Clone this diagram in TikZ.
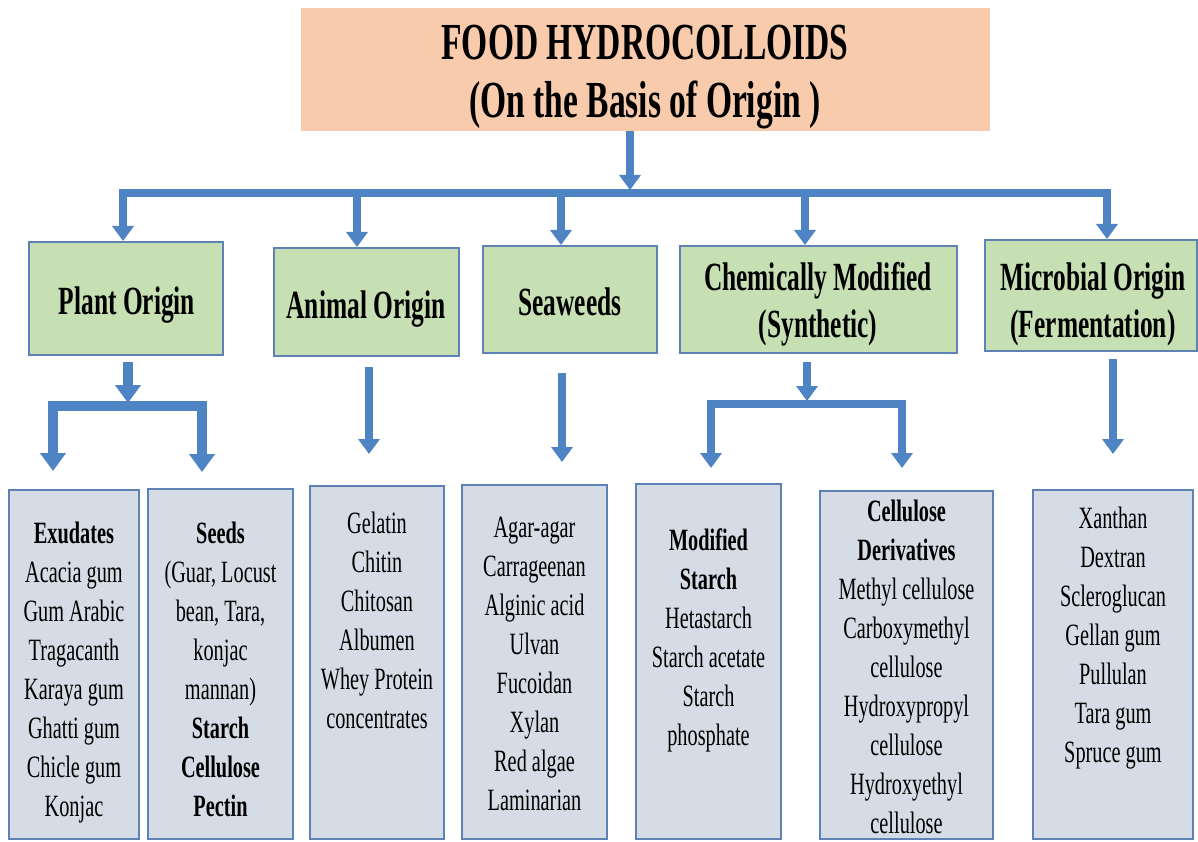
\documentclass[tikz,border=0pt]{standalone}
\usepackage{fontspec}
\setmainfont{Liberation Serif}
\newfontfamily\titlefam[FakeStretch=0.645]{Liberation Serif}
\newfontfamily\condfont[FakeStretch=0.635]{Liberation Serif}
\newfontfamily\listfam[FakeStretch=0.655]{Liberation Serif}
\usetikzlibrary{arrows.meta}
\definecolor{titlefill}{HTML}{F8CBAD}
\definecolor{greenfill}{HTML}{C6E0B4}
\definecolor{boxborder}{HTML}{5E82B4}
\definecolor{listfill}{HTML}{D6DCE5}
\definecolor{arrowc}{HTML}{4F84C4}
\begin{document}
\begin{tikzpicture}[x=1pt,y=-1pt,
  titlebox/.style={fill=titlefill, draw=none, inner sep=0pt},
  catbox/.style={fill=greenfill, draw=boxborder, line width=2pt, inner sep=0pt},
  listbox/.style={fill=listfill, draw=boxborder, line width=2pt, inner sep=0pt},
  titletext/.style={align=center, inner sep=0pt, font=\titlefam\bfseries\fontsize{52}{58}\selectfont,
    execute at begin node=\strut, execute at end node=\strut},
  cattext/.style={align=center, inner sep=0pt, font=\condfont\bfseries\fontsize{40}{47}\selectfont,
    execute at begin node=\strut, execute at end node=\strut},
  listtext/.style={align=center, inner sep=0pt, font=\listfam\fontsize{31}{39}\selectfont,
    execute at begin node=\strut, execute at end node=\strut},
  conn/.style={draw=arrowc, line width=8pt, line join=miter, -{Triangle[width=21pt,length=15pt]}},
  subconn/.style={draw=arrowc, line width=10pt, line join=miter, -{Triangle[width=25pt,length=18pt]}}
]
\fill[white] (0,0) rectangle (1198,842);
\useasboundingbox (0,0) rectangle (1198,842);

% title
\node[titlebox, minimum width=689pt, minimum height=123pt] (title) at (645.5,69.5) {};
\node[titletext] (titlet) at (645,80) {FOOD HYDROCOLLOIDS\\(On the Basis of Origin )};

% categories
\node[catbox, minimum width=194pt, minimum height=113pt] (plant) at (126,298.5) {};
\node[cattext] (plantt) at (127,305) {Plant Origin};
\node[catbox, minimum width=185pt, minimum height=108pt] (animal) at (366.5,302) {};
\node[cattext] (animalt) at (366,309) {Animal Origin};
\node[catbox, minimum width=174pt, minimum height=107pt] (sea) at (570,299.5) {};
\node[cattext] (seat) at (570,306) {Seaweeds};
\node[catbox, minimum width=277pt, minimum height=107pt] (chem) at (818.5,299.5) {};
\node[cattext] (chemt) at (818,307) {Chemically Modified\\(Synthetic)};
\node[catbox, minimum width=212pt, minimum height=111pt] (micro) at (1091,295.5) {};
\node[cattext] (microt) at (1093,307) {Microbial Origin\\(Fermentation)};

% lists
\node[listbox, minimum width=130pt, minimum height=349pt] (exu) at (74,664.5) {};
\node[listtext] (exut) at (74,675) {\textbf{Exudates}\\Acacia gum\\Gum Arabic\\Tragacanth\\Karaya gum\\Ghatti gum\\Chicle gum\\Konjac};
\node[listbox, minimum width=145pt, minimum height=350pt] (seeds) at (220.5,664) {};
\node[listtext] (seedst) at (220.5,675) {\textbf{Seeds}\\(Guar, Locust\\bean, Tara,\\konjac\\mannan)\\\textbf{Starch}\\\textbf{Cellulose}\\\textbf{Pectin}};
\node[listbox, minimum width=134pt, minimum height=353pt] (anlist) at (377,662.5) {};
\node[listtext] (anlistt) at (377,626) {Gelatin\\Chitin\\Chitosan\\Albumen\\Whey Protein\\concentrates};
\node[listbox, minimum width=145pt, minimum height=354pt] (sealist) at (534.5,662) {};
\node[listtext] (sealistt) at (534.5,669.5) {Agar-agar\\Carrageenan\\Alginic acid\\Ulvan\\Fucoidan\\Xylan\\Red algae\\Laminarian};
\node[listbox, minimum width=145pt, minimum height=355pt] (modlist) at (708.5,661.5) {};
\node[listtext] (modlistt) at (708.5,643) {\textbf{Modified}\\\textbf{Starch}\\Hetastarch\\Starch acetate\\Starch\\phosphate};
\node[listbox, minimum width=173pt, minimum height=348pt] (cellist) at (906.5,665) {};
\node[listtext] (cellistt) at (906.5,673) {\textbf{Cellulose}\\\textbf{Derivatives}\\Methyl cellulose\\Carboxymethyl\\cellulose\\Hydroxypropyl\\cellulose\\Hydroxyethyl\\cellulose};
\node[listbox, minimum width=160pt, minimum height=349pt] (miclist) at (1113,664.5) {};
\node[listtext] (miclistt) at (1113,640.5) {Xanthan\\Dextran\\Scleroglucan\\Gellan gum\\Pullulan\\Tara gum\\Spruce gum};

% main bar and drops
\coordinate (bj) at (630,193);
\draw[conn] ([xshift=-15.5pt]title.south) -- ([yshift=3pt]bj);
\draw[conn] (bj) -| ([xshift=-3pt]plant.north);
\draw[conn] (bj) -| ([xshift=16pt]micro.north);
\coordinate (aT) at ([xshift=-9.5pt]animal.north);
\coordinate (sT) at ([xshift=-9pt]sea.north);
\coordinate (cT) at ([xshift=-13.5pt]chem.north);
\draw[conn] (aT |- bj) -- (aT);
\draw[conn] (sT |- bj) -- (sT);
\draw[conn] (cT |- bj) -- (cT);

% plant sub-tree
\coordinate (pj) at (128,406);
\draw[subconn] ([xshift=2pt,yshift=-6pt]plant.south) -- ([yshift=3pt]pj);
\draw[subconn] (pj) -| ([xshift=-21pt,yshift=18pt]exu.north);
\draw[subconn] (pj) -| ([xshift=-18.5pt,yshift=16pt]seeds.north);

% animal, seaweeds
\draw[conn] ([xshift=2.5pt,yshift=-10pt]animal.south) -- ([xshift=-8pt,yshift=31pt]anlist.north);
\draw[conn] ([xshift=-8pt,yshift=-19pt]sea.south) -- ([xshift=27.5pt,yshift=22pt]sealist.north);

% chemically modified sub-tree
\coordinate (cj) at (807,404);
\draw[conn] ([xshift=-11.5pt,yshift=-8pt]chem.south) -- ([yshift=3pt]cj);
\draw[conn] (cj) -| ([xshift=2.5pt,yshift=15pt]modlist.north);
\draw[conn] (cj) -| ([xshift=-4.5pt,yshift=22pt]cellist.north);

% microbial
\draw[conn] ([xshift=22pt,yshift=-7pt]micro.south) -- ([yshift=35pt]miclist.north);
\end{tikzpicture}
\end{document}
